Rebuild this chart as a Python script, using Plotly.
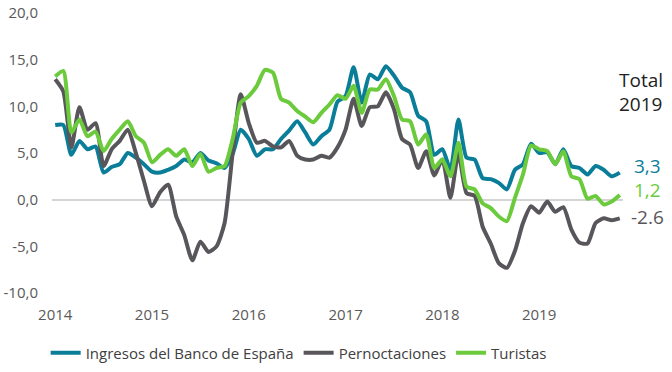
import plotly.graph_objects as go

months = list(range(71))  # Jan 2014 .. Nov 2019 (monthly index)
year_ticks = [0, 12, 24, 36, 48, 60]
year_labels = ["2014", "2015", "2016", "2017", "2018", "2019"]
y_ticks = [-10, -5, 0, 5, 10, 15, 20]
y_labels = ["-10,0", "-5,0", "0,0", "5,0", "10,0", "15,0", "20,0"]

ingresos = [8.0, 8.0, 4.8, 6.3, 5.4, 5.7, 2.9, 3.5, 3.8, 5.0, 4.5, 3.8,
            3.0, 2.9, 3.2, 3.6, 4.3, 4.0, 5.0, 4.2, 3.9, 3.4, 4.9, 7.5,
            6.5, 4.7, 5.4, 5.4, 6.5, 7.4, 8.4, 7.2, 5.9, 6.8, 7.5, 10.5,
            11.1, 14.2, 10.4, 13.4, 12.9, 14.3, 13.3, 12.0, 11.5, 9.0, 8.4, 4.8,
            5.4, 3.2, 8.6, 4.5, 4.3, 2.3, 2.2, 1.8, 1.1, 3.2, 3.8, 6.0,
            5.0, 5.1, 3.8, 5.4, 3.6, 3.4, 2.7, 3.6, 3.2, 2.5, 2.9]

pernoctaciones = [12.9, 11.6, 5.6, 9.9, 7.5, 8.2, 3.6, 5.4, 6.3, 7.5, 5.0, 2.0,
                  -0.7, 0.8, 1.6, -1.8, -3.8, -6.5, -4.5, -5.6, -5.0, -2.5, 5.0, 11.3,
                  8.2, 6.1, 6.3, 5.7, 5.6, 6.3, 4.7, 4.3, 4.3, 4.7, 4.5, 5.6,
                  7.5, 10.8, 7.9, 9.9, 10.0, 11.5, 9.7, 6.5, 5.9, 3.4, 5.2, 2.6,
                  4.3, 0.2, 5.0, 0.7, 0.4, -2.9, -4.7, -6.8, -7.3, -5.5, -2.5, -0.7,
                  -1.4, -0.2, -1.3, -0.8, -3.2, -4.6, -4.7, -2.5, -2.0, -2.2, -2.0]

turistas = [13.2, 13.8, 7.2, 8.6, 6.8, 7.3, 5.2, 6.5, 7.5, 8.4, 6.8, 6.1,
            4.0, 4.8, 5.4, 4.7, 5.4, 3.6, 4.9, 3.0, 3.4, 3.6, 6.5, 10.4,
            11.1, 12.2, 13.9, 13.6, 10.8, 10.4, 9.5, 8.9, 8.3, 9.3, 10.2, 11.2,
            10.8, 12.2, 9.3, 11.8, 11.8, 12.9, 11.1, 8.6, 8.4, 5.9, 7.0, 3.4,
            4.3, 2.5, 6.1, 1.4, 1.1, -0.4, -0.9, -1.8, -2.3, 0.2, 2.7, 5.8,
            5.4, 5.2, 3.8, 5.2, 2.5, 2.2, 0.1, 0.4, -0.5, -0.2, 0.5]

c_blue = "#0A7D99"
c_gray = "#58565A"
c_green = "#6BCB3C"

fig = go.Figure()
for name, ys, col in [("Ingresos del Banco de España", ingresos, c_blue),
                      ("Pernoctaciones", pernoctaciones, c_gray),
                      ("Turistas", turistas, c_green)]:
    fig.add_trace(go.Scatter(x=months, y=ys, name=name, mode="lines",
                             line=dict(color=col, width=4, shape="spline", smoothing=0.6)))

ann_font = "Open Sans"
annos = [
    ("Total", 0.989, 0.761, "#222222"),
    ("2019", 0.989, 0.675, "#222222"),
    ("3,3", 1.016, 0.454, c_blue),
    ("1,2", 1.016, 0.368, c_green),
    ("-2.6", 1.011, 0.271, c_gray),
]
for txt, xp, yp, col in annos:
    fig.add_annotation(x=xp, y=yp, xref="paper", yref="paper", text=txt,
                       showarrow=False, xanchor="left", yanchor="middle", align="left",
                       font=dict(family=ann_font, size=19, color=col))

fig.update_layout(
    width=672, height=372,
    margin=dict(l=52, r=49, t=13, b=79, autoexpand=False),
    paper_bgcolor="white", plot_bgcolor="white",
    font=dict(family="Open Sans", size=15, color="#595959"),
    showlegend=True,
    legend=dict(orientation="h", x=0.432, xanchor="center", y=-0.214, yanchor="middle",
                font=dict(size=15, color="#404040"), itemwidth=30, tracegroupgap=0),
    xaxis=dict(range=[-0.4, 70.4], tickvals=year_ticks, ticktext=year_labels,
               showgrid=False, zeroline=False, showline=False, automargin=False,
               ticks="outside", ticklen=8, tickcolor="rgba(0,0,0,0)"),
    yaxis=dict(range=[-10, 20], tickvals=y_ticks, ticktext=y_labels,
               showgrid=False, zeroline=True, zerolinecolor="#d4d4d4", zerolinewidth=1.5,
               showline=False, automargin=False,
               ticks="outside", ticklen=10, tickcolor="rgba(0,0,0,0)"),
)

fig.write_html("out.html", config={"displayModeBar": False},
               post_script="document.body.style.margin='0';")
